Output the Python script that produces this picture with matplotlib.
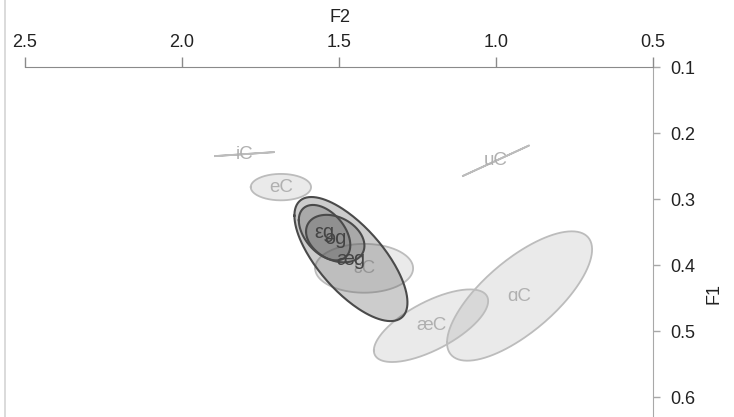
import numpy as np
import matplotlib
matplotlib.use("Agg")
import matplotlib.pyplot as plt
from matplotlib.lines import Line2D

plt.rcParams['font.family'] = ['Liberation Sans', 'DejaVu Sans']

# Vowel categories: mean formants (in kHz), standard deviations and F1/F2 correlation
light_labels = ["iC", "eC", "uC", "ɛC", "æC", "ɑC"]
light_f2 = [1.801, 1.685, 1.000, 1.420, 1.207, 0.925]
light_f1 = [0.232, 0.282, 0.242, 0.405, 0.492, 0.447]
light_sd_f2 = [0.094, 0.096, 0.105, 0.156, 0.182, 0.231]
light_sd_f1 = [0.003, 0.020, 0.023, 0.037, 0.055, 0.098]
light_r = [1.0, 0.0, 1.0, 0.0, 0.68, 0.72]

dark_labels = ["æg", "εg", "əg"]
dark_f2 = [1.462, 1.546, 1.512]
dark_f1 = [0.391, 0.351, 0.360]
dark_sd_f2 = [0.180, 0.082, 0.093]
dark_sd_f1 = [0.094, 0.042, 0.036]
dark_r = [-0.70, -0.45, -0.3]

x_ticks = [2.5, 2.0, 1.5, 1.0, 0.5]
y_ticks = [0.1, 0.2, 0.3, 0.4, 0.5, 0.6]

W, H = 734, 417
fig = plt.figure(figsize=(W / 100, H / 100), dpi=100)
ax = fig.add_axes([25 / W, 0, 628 / W, 350 / H])
ax.set_xlim(2.5, 0.5)
ax.set_ylim(0.1 + 350 / 660, 0.1)


def ellipse_pts(mx, my, sx, sy, r, n=200):
    t = np.linspace(0, 2 * np.pi, n)
    x = mx + sx * np.cos(t)
    y = my + sy * (r * np.cos(t) + np.sqrt(max(0.0, 1 - r * r)) * np.sin(t))
    return x, y


for lab, mx, my, sx, sy, r in zip(light_labels, light_f2, light_f1,
                                  light_sd_f2, light_sd_f1, light_r):
    x, y = ellipse_pts(mx, my, sx, sy, r)
    ax.fill(x, y, facecolor="#808080", alpha=0.16, edgecolor="none", zorder=1)
    ax.plot(x, y, color="#bcbcbc", lw=1.3, zorder=2)
    ax.text(mx, my, lab, color="#b0b0b0", fontsize=13.5,
            ha="center", va="center", zorder=3)

for lab, mx, my, sx, sy, r in zip(dark_labels, dark_f2, dark_f1,
                                  dark_sd_f2, dark_sd_f1, dark_r):
    x, y = ellipse_pts(mx, my, sx, sy, r)
    ax.fill(x, y, facecolor="#595959", alpha=0.3, edgecolor="none", zorder=4)
    ax.plot(x, y, color="#4a4a4a", lw=1.5, zorder=5)

for lab, mx, my in zip(dark_labels, dark_f2, dark_f1):
    ax.text(mx, my, lab, color="#444444", fontsize=14.5,
            ha="center", va="center", zorder=6)

# Axes: F2 along the top, F1 on the right
for s in ["left", "bottom"]:
    ax.spines[s].set_visible(False)
ax.spines["top"].set_color("#8a8a8a")
ax.spines["right"].set_color("#a8a8a8")
ax.xaxis.tick_top()
ax.yaxis.tick_right()
ax.set_xticks(x_ticks)
ax.set_xticklabels([f"{v:.1f}" for v in x_ticks])
ax.set_yticks(y_ticks)
ax.set_yticklabels([f"{v:.1f}" for v in y_ticks])
ax.tick_params(axis="x", direction="out", length=7.2, width=1,
               color="#8a8a8a", pad=4, labelsize=13, labelcolor="#222222")
ax.tick_params(axis="y", direction="out", length=5, width=1,
               color="#a8a8a8", pad=7.5, labelsize=13, labelcolor="#222222")
ax.set_facecolor("none")

fig.text(340 / W, 1 - 17 / H, "F2", ha="center", va="center",
         fontsize=13, color="#222222")
fig.text(714 / W, 1 - 293 / H, "F1", ha="center", va="center",
         fontsize=13, color="#222222", rotation=90)

fig.add_artist(Line2D([4.5 / W, 4.5 / W], [0, 1], color="#d4d4d4", lw=1.2,
                      transform=fig.transFigure))

fig.savefig("out.png", dpi=100)
